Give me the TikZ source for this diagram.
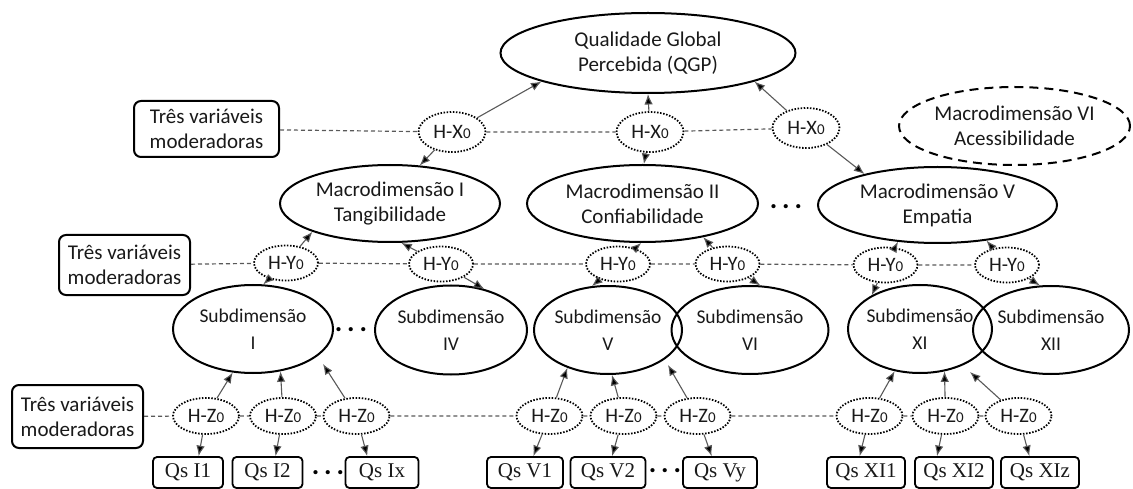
\documentclass[tikz,border=0pt]{standalone}
\usepackage{fontspec}
\setmainfont{Carlito}
\newfontfamily\qsfont{Liberation Serif}
\usetikzlibrary{shapes.geometric,arrows.meta}

% hypothesis label with a small zero
\newcommand{\hyp}[1]{H-#1{\fontsize{15}{15}\selectfont 0}}

\begin{document}
\begin{tikzpicture}[x=1pt,y=-1pt,
  txt/.style={text=black!90, align=center},
  bigtxt/.style={txt, font=\fontsize{21}{25}\selectfont},
  subtxt/.style={txt, font=\fontsize{19.5}{27}\selectfont},
  solidell/.style={ellipse, draw, line width=2pt, inner sep=0pt},
  dashell/.style={ellipse, draw, line width=2pt, inner sep=0pt, dash pattern=on 9pt off 6pt},
  hypo/.style={ellipse, draw, line width=1.8pt, dash pattern=on 1.5pt off 1.6pt,
    inner sep=0pt, txt, font=\fontsize{20.5}{20.5}\selectfont},
  modbox/.style={rectangle, rounded corners=7pt, draw, line width=2pt, inner sep=0pt,
    bigtxt},
  qbox/.style={rectangle, rounded corners=4pt, draw, line width=1.8pt, inner sep=0pt,
    minimum height=31pt, txt, font=\qsfont\fontsize{21}{21}\selectfont},
  link/.style={line width=1.1pt, draw=black!65, -{Latex[length=10.5pt,width=8.5pt,fill=black]}},
  modline/.style={line width=1.2pt, draw=black!65, dash pattern=on 4pt off 3pt},
  dotrow/.style={inner sep=0pt, font=\bfseries\fontsize{28}{28}\selectfont}
]
\useasboundingbox (0,0) rectangle (1133,489);

% ---------- global quality ----------
\node[solidell, minimum width=295pt, minimum height=80pt,
  label={[bigtxt]center:Qualidade Global\\Percebida (QGP)}] (qgp) at (648,53) {};

% ---------- macro-dimensions ----------
\node[solidell, minimum width=220pt, minimum height=77pt,
  label={[bigtxt]center:Macrodimensão I\\Tangibilidade}] (m1) at (390,203.5) {};
\node[solidell, minimum width=231pt, minimum height=77pt,
  label={[bigtxt]center:Macrodimensão II\\Confiabilidade}] (m2) at (642.5,203.5) {};
\node[solidell, minimum width=239pt, minimum height=76pt,
  label={[bigtxt]center:Macrodimensão V\\Empatia}] (m5) at (937.5,205) {};
\node[dashell, minimum width=231pt, minimum height=78pt,
  label={[bigtxt]center:Macrodimensão VI\\Acessibilidade}] (m6) at (1014.5,126) {};
\node[dotrow] (dm) at (786,207) {.\hspace{5pt}.\hspace{5pt}.};

% ---------- sub-dimensions ----------
\node[solidell, minimum width=160pt, minimum height=88pt,
  label={[subtxt]center:Subdimensão\\I}] (s1) at (253,329) {};
\node[solidell, minimum width=152pt, minimum height=89pt,
  label={[subtxt]center:Subdimensão\\IV}] (s4) at (451,330) {};
\node[solidell, minimum width=148pt, minimum height=88pt,
  label={[subtxt]center:Subdimensão\\V}] (s5) at (608,330) {};
\node[solidell, minimum width=157pt, minimum height=88pt,
  label={[subtxt]center:Subdimensão\\VI}] (s6) at (750,330) {};
\node[solidell, minimum width=144pt, minimum height=88pt,
  label={[subtxt]center:Subdimensão\\XI}] (s11) at (920,329) {};
\node[solidell, minimum width=156pt, minimum height=88pt,
  label={[subtxt]center:Subdimensão\\XII}] (s12) at (1051,330) {};
\node[dotrow] (ds) at (351,330) {.\hspace{5pt}.\hspace{5pt}.};

% ---------- moderator boxes ----------
\node[modbox, minimum width=145pt, minimum height=56pt] (b1) at (206.5,129) {Três variáveis\\moderadoras};
\node[modbox, minimum width=131pt, minimum height=60pt] (b2) at (124.5,265) {Três variáveis\\moderadoras};
\node[modbox, minimum width=131pt, minimum height=63pt] (b3) at (77.5,416.5) {Três variáveis\\moderadoras};

% ---------- hypotheses ----------
\foreach \n/\px/\py in {x1/452/132, x2/650/132, x3/806/128}
  \node[hypo, minimum width=67pt, minimum height=40pt] (\n) at (\px,\py) {\hyp{X}};
\foreach \n/\px/\py in {y1/286/263, y2/441/264, y3/618/264, y4/727.5/264, y5/885.5/265, y6/1007/265}
  \node[hypo, minimum width=64pt, minimum height=35pt] (\n) at (\px,\py) {\hyp{Y}};
\foreach \n/\px in {z1/206, z2/283, z3/356.5, z4/549.5, z5/623.5, z6/697.5, z7/869.5, z8/945.5, z9/1018.5}
  \node[hypo, minimum width=66pt, minimum height=36pt] (\n) at (\px,416) {\hyp{Z}};

% ---------- question blocks ----------
\node[qbox, minimum width=70pt] (q1) at (188,472.5) {Qs I1};
\node[qbox, minimum width=70pt] (q2) at (267.5,472.5) {Qs I2};
\node[qbox, minimum width=73pt] (q3) at (382,472.5) {Qs Ix};
\node[qbox, minimum width=76pt] (q4) at (525,472.5) {Qs V1};
\node[qbox, minimum width=75pt] (q5) at (608,472.5) {Qs V2};
\node[qbox, minimum width=74pt] (q6) at (720,472.5) {Qs Vy};
\node[qbox, minimum width=78pt] (q7) at (866,472.5) {Qs XI1};
\node[qbox, minimum width=78pt] (q8) at (954,472.5) {Qs XI2};
\node[qbox, minimum width=78pt] (q9) at (1040,472.5) {Qs XIz};
\node[dotrow] (dq1) at (328,473) {.\hspace{5pt}.\hspace{5pt}.};
\node[dotrow] (dq2) at (665,471) {.\hspace{5pt}.\hspace{5pt}.};

% ---------- moderator lines ----------
\draw[modline] (b1) -- (x1) -- (x2) -- (x3);
\draw[modline] (b2) -- (y1) -- (y2) -- (y3) -- (y4) -- (y5) -- (y6);
\draw[modline] (b3) -- (z1) -- (z2) -- (z3) -- (z4) -- (z5) -- (z6) -- (z7) -- (z8) -- (z9);

% ---------- free arrow ends below sub-dimensions ----------
\coordinate (t3) at (323,364);
\coordinate (t6) at (668,365);
\coordinate (t9) at (970,372);

% ---------- hypothesis arrows ----------
\draw[link] (x1) -- (qgp.195);
\draw[link] (x1) -- (m1.52);
\draw[link] (x2) -- (qgp.270);
\draw[link] (x2) -- (m2.88);
\draw[link] (x3) -- (qgp.345);
\draw[link] (x3) -- (m5.157);

\draw[link] (y1) -- (m1.200);
\draw[link] (y1) -- (s1.77);
\draw[link] (y2) -- (m1.286);
\draw[link] (y2) -- (s4.51);
\draw[link] (y3) -- (m2.268);
\draw[link] (y3) -- (s5.110);
\draw[link] (y4) -- (m2.331);
\draw[link] (y4) -- (s6.77);
\draw[link] (y5) -- (m5.223);
\draw[link] (y5) -- (s11.145);
\draw[link] (y6) -- (m5.324);
\draw[link] (y6) -- (s12.104);

\draw[link] (z1) -- (s1.245);
\draw[link] (z1) -- (q1.57);
\draw[link] (z2) -- (s1.303);
\draw[link] (z2) -- (q2.64);
\draw[link] (z3) -- (t3);
\draw[link] (z3) -- (q3.132);
\draw[link] (z4) -- (s5.223);
\draw[link] (z4) -- (q4.63);
\draw[link] (z5) -- (s5.275);
\draw[link] (z5) -- (q5.76);
\draw[link] (z6) -- (t6);
\draw[link] (z6) -- (q6.117);
\draw[link] (z7) -- (s11.239);
\draw[link] (z7) -- (q7.111);
\draw[link] (z8) -- (s11.300);
\draw[link] (z8) -- (q8.136);
\draw[link] (z9) -- (t9);
\draw[link] (z9) -- (q9.123);
\end{tikzpicture}
\end{document}
